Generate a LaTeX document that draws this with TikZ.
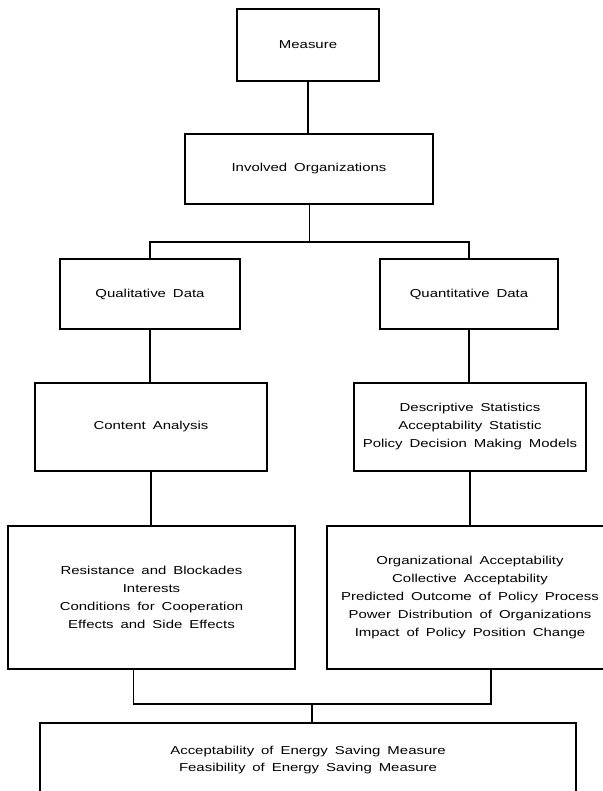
\documentclass[tikz,border=0pt]{standalone}
\usepackage{fontspec}
\setmainfont{Liberation Sans}[FakeStretch=1.3, WordSpace=1.67]
\usetikzlibrary{calc}
\begin{document}
\begin{tikzpicture}[x=1pt,y=-1pt,
  box/.style={draw, line width=1.1pt, rectangle, align=center,
    font=\fontsize{11.5}{18}\selectfont, inner sep=0pt},
  conn/.style={line width=1.1pt}]
\useasboundingbox (0,0) rectangle (602,791);
\node[box, minimum width=142pt, minimum height=72pt] (measure) at (308,45) {Measure};
\node[box, minimum width=248pt, minimum height=70pt] (involved) at (309,169) {Involved Organizations};
\node[box, minimum width=180pt, minimum height=70pt] (qual) at (150,294) {Qualitative Data};
\node[box, minimum width=178pt, minimum height=70pt] (quant) at (469,294) {Quantitative Data};
\node[box, minimum width=232pt, minimum height=88pt] (content) at (151,427) {Content Analysis};
\node[box, minimum width=232pt, minimum height=88pt] (desc) at (470,427) {Descriptive Statistics\\Acceptability Statistic\\Policy Decision Making Models};
\node[box, minimum width=287pt, minimum height=143pt] (res) at (151.5,597.5) {Resistance and Blockades\\Interests\\Conditions for Cooperation\\Effects and Side Effects};
\node[box, minimum width=286pt, minimum height=143pt] (org) at (470,597.5) {Organizational Acceptability\\Collective Acceptability\\Predicted Outcome of Policy Process\\Power Distribution of Organizations\\Impact of Policy Position Change};
\node[box, minimum width=536pt, minimum height=78pt, text depth=0pt] (bottom) at (308,762) {};
\node[font=\fontsize{11.5}{17}\selectfont, align=center, inner sep=0pt] (bottomtext) at (308,760.5) {Acceptability of Energy Saving Measure\\Feasibility of Energy Saving Measure};
\coordinate (br) at (309.5,242);
\coordinate (ml) at ($(res.south west)!0.439!(res.south east)$);
\coordinate (mr) at ($(org.south west)!0.573!(org.south east)$);
\coordinate (mg) at (312,704);
\draw[conn] (measure.south) -- (measure.south |- involved.north);
\draw[conn] (involved.south -| br) -- (br);
\draw[conn] (qual.north) |- (br) -| (quant.north);
\draw[conn] (qual.south) -- (qual.south |- content.north);
\draw[conn] (quant.south) -- (quant.south |- desc.north);
\draw[conn] (content.south) -- (content.south |- res.north);
\draw[conn] (desc.south) -- (desc.south |- org.north);
\draw[conn] (ml) |- (mg) -| (mr);
\draw[conn] (mg) -- (mg |- bottom.north);
\end{tikzpicture}
\end{document}
